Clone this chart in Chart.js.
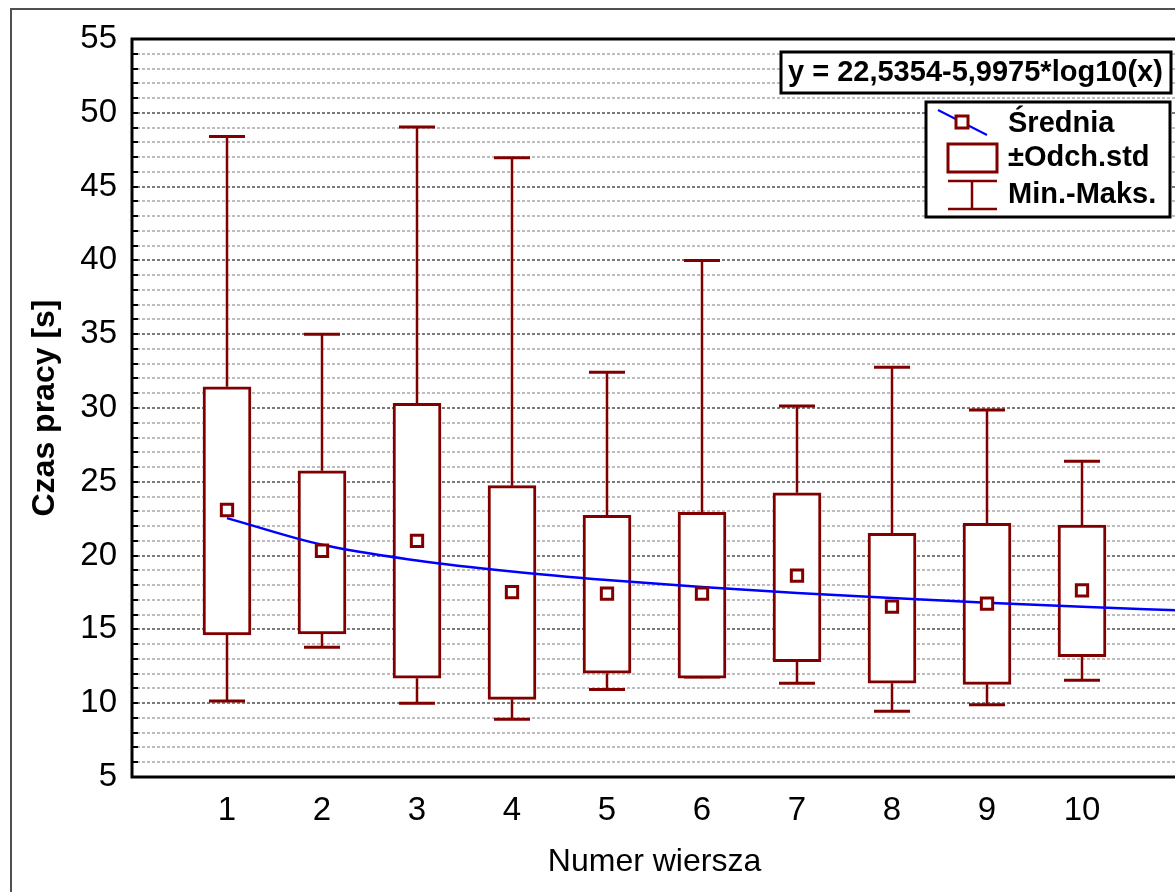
<!DOCTYPE html>
<html>
<head>
<meta charset="utf-8">
<script src="https://cdn.jsdelivr.net/npm/chart.js@4.4.1/dist/chart.umd.min.js"></script>
<style>
  html, body { margin: 0; padding: 0; background: #fff; overflow: hidden; }
  #wrap { position: relative; width: 1175px; height: 892px; overflow: hidden; background: #fff; }
  #frame { position: absolute; left: 10px; top: 8px; width: 1300px; height: 1000px;
           border-left: 2px solid #505050; border-top: 2px solid #505050; }
  canvas { position: absolute; left: 0; top: 0; }
</style>
</head>
<body>
<div id="wrap">
  <div id="frame"></div>
  <canvas id="boxChart" width="1200" height="892"></canvas>
</div>
<script>
// Czas pracy dla kolejnych wierszy
const rows = ['1', '2', '3', '4', '5', '6', '7', '8', '9', '10'];
const means  = [23.09, 20.33, 21.00, 17.53, 17.42, 17.42, 18.64, 16.54, 16.74, 17.65];
const sdLow  = [14.62, 14.69, 11.69, 10.26, 12.03, 11.69, 12.81, 11.35, 11.28, 13.15];
const sdHigh = [31.44, 25.75, 30.32, 24.74, 22.73, 22.93, 24.26, 21.51, 22.19, 22.07];
const mins   = [10.15, 13.79,  9.99,  8.91, 10.92, 11.78, 11.35,  9.45,  9.90, 11.55];
const maxs   = [48.40, 35.00, 49.04, 46.96, 32.42, 40.00, 30.14, 32.76, 29.86, 26.40];

// krzywa dopasowania y = 22,5354-5,9975*log10(x), odczytana w punktach
const fitX = [1, 2, 3, 4, 5, 6, 7, 8, 9, 10, 11];
const fitY = [22.54, 20.73, 19.67, 18.92, 18.34, 17.87, 17.47, 17.12, 16.81, 16.54, 16.29];

const equationText = 'y = 22,5354-5,9975*log10(x)';
const legendLabels = ['Średnia', '±Odch.std', 'Min.-Maks.'];

const DARK_RED = '#800000';
const FONT = 'Arial, "Liberation Sans", sans-serif';

const boxExtras = {
  id: 'boxExtras',
  beforeDatasetsDraw(chart) {
    const ctx = chart.ctx;
    const xs = chart.scales.x, ys = chart.scales.y;
    ctx.save();
    ctx.strokeStyle = DARK_RED;
    rows.forEach((r, i) => {
      const x = xs.getPixelForValue(i + 1);
      const yMax = ys.getPixelForValue(maxs[i]);
      const yMin = ys.getPixelForValue(mins[i]);
      const yHi = ys.getPixelForValue(sdHigh[i]);
      const yLo = ys.getPixelForValue(sdLow[i]);
      ctx.lineWidth = 2.5;
      ctx.beginPath();
      ctx.moveTo(x, yMax); ctx.lineTo(x, yHi);
      ctx.moveTo(x, yLo); ctx.lineTo(x, yMin);
      ctx.stroke();
      ctx.lineWidth = 3;
      ctx.beginPath();
      ctx.moveTo(x - 18, yMax); ctx.lineTo(x + 18, yMax);
      ctx.moveTo(x - 18, yMin); ctx.lineTo(x + 18, yMin);
      ctx.stroke();
    });
    ctx.restore();
  },
  afterDraw(chart) {
    const ctx = chart.ctx;
    const a = chart.chartArea;
    const ys = chart.scales.y;
    ctx.save();
    // ramka obszaru wykresu
    ctx.strokeStyle = '#000';
    ctx.lineWidth = 3;
    ctx.strokeRect(a.left, a.top, a.right - a.left, a.bottom - a.top);
    // znaczniki osi Y
    ctx.lineWidth = 2;
    ctx.beginPath();
    for (let v = ys.min; v <= ys.max; v++) {
      const y = Math.round(ys.getPixelForValue(v));
      ctx.moveTo(a.left, y); ctx.lineTo(a.left + 6, y);
    }
    ctx.stroke();

    // równanie
    ctx.fillStyle = '#fff';
    ctx.fillRect(781, 52, 390, 41);
    ctx.lineWidth = 3;
    ctx.strokeRect(781, 52, 390, 41);
    ctx.fillStyle = '#000';
    ctx.font = 'bold 29px ' + FONT;
    ctx.textBaseline = 'middle';
    ctx.textAlign = 'left';
    ctx.fillText(equationText, 788, 73);

    // legenda
    ctx.fillStyle = '#fff';
    ctx.fillRect(926, 102, 244, 115);
    ctx.strokeStyle = '#000';
    ctx.strokeRect(926, 102, 244, 115);

    ctx.strokeStyle = '#0000ff';
    ctx.lineWidth = 2;
    ctx.beginPath();
    ctx.moveTo(938, 110); ctx.lineTo(987, 135);
    ctx.stroke();
    ctx.strokeStyle = DARK_RED;
    ctx.lineWidth = 3;
    ctx.fillStyle = '#fff';
    ctx.fillRect(956, 116, 12, 12);
    ctx.strokeRect(956, 116, 12, 12);
    ctx.strokeRect(948, 144, 49, 28);
    ctx.lineWidth = 2.5;
    ctx.beginPath();
    ctx.moveTo(948, 181); ctx.lineTo(997, 181);
    ctx.moveTo(948, 209); ctx.lineTo(997, 209);
    ctx.moveTo(972, 181); ctx.lineTo(972, 209);
    ctx.stroke();

    ctx.fillStyle = '#000';
    ctx.font = 'bold 29px ' + FONT;
    ctx.fillText(legendLabels[0], 1008, 124);
    ctx.fillText(legendLabels[1], 1008, 158);
    ctx.fillText(legendLabels[2], 1008, 195);
    ctx.restore();
  }
};

const ctx = document.getElementById('boxChart');
new Chart(ctx, {
  type: 'bar',
  data: {
    datasets: [
      {
        type: 'line',
        label: legendLabels[0],
        data: means.map((m, i) => ({ x: i + 1, y: m })),
        showLine: false,
        pointStyle: 'rect',
        pointRadius: 8,
        pointBorderWidth: 3,
        pointBorderColor: DARK_RED,
        pointBackgroundColor: '#fff',
        order: 0
      },
      {
        type: 'line',
        label: 'fit',
        data: fitX.map((x, i) => ({ x: x, y: fitY[i] })),
        borderColor: '#0000ff',
        borderWidth: 2.5,
        pointRadius: 0,
        cubicInterpolationMode: 'monotone',
        fill: false,
        order: 1
      },
      {
        type: 'bar',
        label: legendLabels[1],
        data: rows.map((r, i) => ({ x: i + 1, y: [sdLow[i], sdHigh[i]] })),
        backgroundColor: '#fff',
        borderColor: DARK_RED,
        borderWidth: 3,
        borderSkipped: false,
        barThickness: 48,
        order: 2
      }
    ]
  },
  options: {
    responsive: false,
    animation: false,
    devicePixelRatio: 1,
    layout: { padding: { left: 0, top: 39, right: 23, bottom: 0 } },
    plugins: { legend: { display: false }, tooltip: { enabled: false } },
    scales: {
      x: {
        type: 'linear',
        min: 0,
        max: 11,
        offset: false,
        grid: { display: false, offset: false },
        border: { display: false },
        ticks: {
          stepSize: 1,
          autoSkip: false,
          maxRotation: 0,
          padding: 6,
          color: '#000',
          font: { family: FONT, size: 33 },
          callback: v => (Number.isInteger(v) && v >= 1 && v <= rows.length) ? rows[v - 1] : ''
        },
        title: {
          display: true,
          text: 'Numer wiersza',
          color: '#000',
          font: { family: FONT, size: 32 },
          padding: { top: 0, bottom: 11 }
        },
        afterFit: s => { s.height = 115; }
      },
      y: {
        min: 5,
        max: 55,
        grid: {
          drawTicks: false,
          lineWidth: 2,
          color: c => (c.tick && c.tick.value % 5 === 0) ? '#7a7a7a' : '#bdbdbd'
        },
        border: { display: false, dash: [3, 2] },
        ticks: {
          stepSize: 1,
          autoSkip: false,
          padding: 15,
          color: '#000',
          font: { family: FONT, size: 33 },
          callback: v => v % 5 === 0 ? String(v) : ''
        },
        title: {
          display: true,
          text: 'Czas pracy [s]',
          color: '#000',
          font: { family: FONT, size: 32, weight: 'bold' },
          padding: { top: 26, bottom: 0 }
        },
        afterFit: s => { s.width = 132; }
      }
    }
  },
  plugins: [boxExtras]
});
</script>
</body>
</html>
